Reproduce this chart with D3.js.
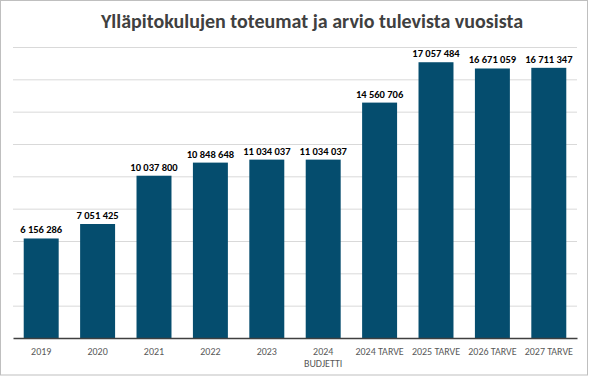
<!DOCTYPE html>
<html lang='fi'>
<head>
   <meta charset='UTF-8'>
   <title>Ylläpitokulujen toteumat</title>
   <script src='https://d3js.org/d3.v7.min.js'></script>
   <style>
      body { margin: 0; background: #fff; }
      svg { display: block; }
   </style>
</head>
<body>
   <div id='chart'></div>
   <script>
      const categories = [['2019'], ['2020'], ['2021'], ['2022'], ['2023'], ['2024', 'BUDJETTI'],
         ['2024 TARVE'], ['2025 TARVE'], ['2026 TARVE'], ['2027 TARVE']];
      const values = [6156286, 7051425, 10037800, 10848648, 11034037, 11034037,
         14560706, 17057484, 16671059, 16711347];
      const yTicks = [0, 2e6, 4e6, 6e6, 8e6, 10e6, 12e6, 14e6, 16e6, 18e6];

      const W = 590, H = 377;
      const margins = { top: 47, right: 13, bottom: 39, left: 13 };
      const width = W - margins.left - margins.right;
      const height = H - margins.top - margins.bottom;

      const svg = d3.select('#chart').append('svg').attr('width', W).attr('height', H);

      // outer frame
      svg.append('rect').attr('x', 0.5).attr('y', 0.5).attr('width', W - 3).attr('height', H - 2.5)
         .attr('fill', '#fff').attr('stroke', '#bfbfbf');

      svg.append('text')
         .attr('x', 312).attr('y', 28)
         .attr('text-anchor', 'middle')
         .attr('font-family', 'Carlito, "Open Sans", sans-serif')
         .attr('font-weight', 'bold')
         .attr('font-size', 20)
         .attr('fill', '#404040')
         .text('Ylläpitokulujen toteumat ja arvio tulevista vuosista');

      const g = svg.append('g').attr('transform', `translate(${margins.left}, ${margins.top})`);

      const x = d3.scaleBand().domain(d3.range(values.length)).range([0, width]).paddingInner(0.38).paddingOuter(0.19);
      const y = d3.scaleLinear().domain([0, 18e6]).range([height, 0]);

      // gridlines
      g.append('g').attr('class', 'grid')
         .call(d3.axisLeft(y).tickValues(yTicks.slice(1)).tickSize(-width).tickFormat(''))
         .call(s => s.select('.domain').remove())
         .call(s => s.selectAll('line').attr('stroke', '#d9d9d9').attr('stroke-width', 1));

      g.selectAll('.bar').data(values).join('rect')
         .attr('class', 'bar')
         .attr('x', (d, i) => x(i))
         .attr('y', d => y(d))
         .attr('width', x.bandwidth())
         .attr('height', d => height - y(d))
         .attr('fill', '#054d6e');

      const locale = d3.formatLocale({ decimal: ',', thousands: ' ', grouping: [3], currency: ['', ' €'] });
      const fmt = locale.format(',d');

      g.selectAll('.lbl').data(values).join('text')
         .attr('class', 'lbl')
         .attr('x', (d, i) => x(i) + x.bandwidth() / 2)
         .attr('y', d => y(d) - 5)
         .attr('text-anchor', 'middle')
         .attr('font-family', 'Carlito, "Open Sans", sans-serif')
         .attr('font-weight', 'bold')
         .attr('font-size', 10.5)
         .attr('fill', '#000')
         .text(fmt);

      // x axis
      const xAxis = g.append('g').attr('transform', `translate(0, ${height})`)
         .call(d3.axisBottom(x).tickSize(0).tickFormat(''));
      xAxis.select('.domain').attr('stroke', '#404040').attr('stroke-width', 1.5);

      g.selectAll('.xl').data(categories).join('text')
         .attr('class', 'xl')
         .attr('transform', (d, i) => `translate(${x(i) + x.bandwidth() / 2}, ${height + 17})`)
         .attr('text-anchor', 'middle')
         .attr('font-family', 'Carlito, "Open Sans", sans-serif')
         .attr('font-size', 10)
         .attr('fill', '#595959')
         .selectAll('tspan').data(d => d).join('tspan')
         .attr('x', 0)
         .attr('dy', (d, i) => i === 0 ? 0 : 12)
         .text(d => d);
   </script>
</body>
</html>
